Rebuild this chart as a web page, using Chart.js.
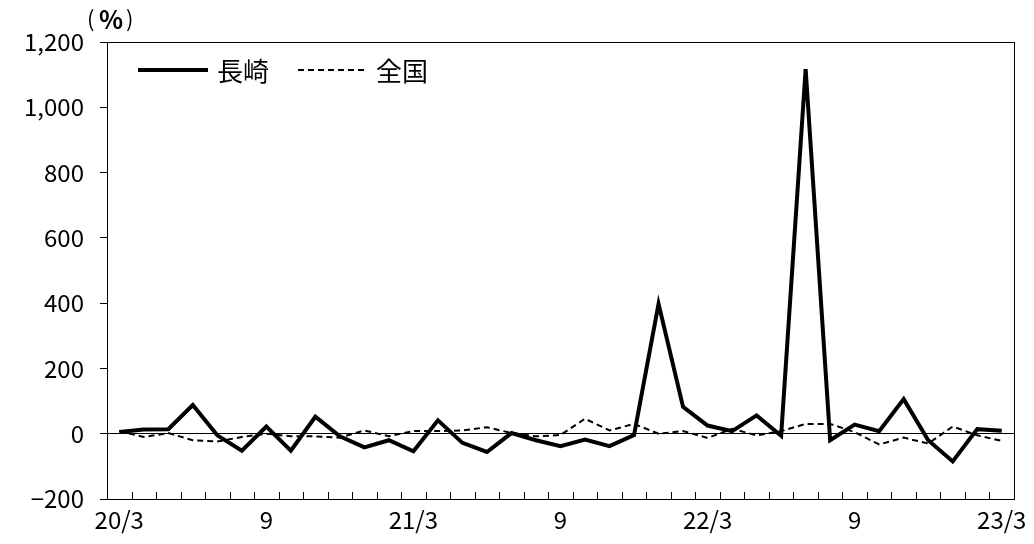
<!DOCTYPE html>
<html>
<head>
<meta charset="utf-8">
<script src="https://cdn.jsdelivr.net/npm/chart.js@4.4.1/dist/chart.umd.min.js"></script>
<style>
  html, body { margin: 0; padding: 0; background: #fff; }
  canvas { display: block; }
</style>
</head>
<body>
<canvas id="chart" width="1034" height="544"></canvas>
<script>
// monthly, 2020/3 .. 2023/3
const months = [
  '2020/3', '2020/4', '2020/5', '2020/6', '2020/7', '2020/8', '2020/9', '2020/10', '2020/11', '2020/12',
  '2021/1', '2021/2', '2021/3', '2021/4', '2021/5', '2021/6', '2021/7', '2021/8', '2021/9', '2021/10',
  '2021/11', '2021/12', '2022/1', '2022/2', '2022/3', '2022/4', '2022/5', '2022/6', '2022/7', '2022/8',
  '2022/9', '2022/10', '2022/11', '2022/12', '2023/1', '2023/2', '2023/3',
];
const xTickLabels = ['20/3', '9', '21/3', '9', '22/3', '9', '23/3'];
const xTickEvery = 6;

const nagasaki = [5, 13, 14, 88, -5, -52, 22, -52, 52, -8, -42, -20, -54, 41, -28, -56, 2, -20, -38, -18,
  -38, -4, 398, 82, 25, 8, 56, -6, 1117, -20, 28, 8, 106, -20, -85, 14, 9];
const zenkoku = [8, -10, 2, -20, -24, -10, 0, -8, -8, -12, 10, -8, 8, 8, 10, 20, 2, -8, -4, 46,
  10, 30, 0, 8, -13, 15, -5, 8, 30, 30, 5, -33, -12, -30, 22, -5, -22];

const seriesNames = ['長崎', '全国'];
const yMin = -200;
const yMax = 1200;
const yStep = 200;

const jpFont = '"Noto Sans CJK JP", sans-serif';
const tickFont = { family: jpFont, size: 24 };

function formatY(value) {
  const s = Math.abs(value).toLocaleString('en-US');
  return value < 0 ? '\u2212' + s : s;
}

// frame, inner x ticks, unit label
const framePlugin = {
  id: 'frame',
  beforeDatasetsDraw(chart) {
    const { ctx, chartArea } = chart;
    const x = chart.scales.x;
    const half = (x.getPixelForValue(1) - x.getPixelForValue(0)) / 2;
    ctx.save();
    ctx.strokeStyle = '#000';
    ctx.lineWidth = 1;
    ctx.strokeRect(chartArea.left + 0.5, chartArea.top + 0.5,
      chartArea.right - chartArea.left, chartArea.bottom - chartArea.top);
    ctx.beginPath();
    for (let i = 0; i <= months.length; i++) {
      const px = Math.round(x.getPixelForValue(i) - half) + 0.5;
      ctx.moveTo(px, chartArea.bottom);
      ctx.lineTo(px, chartArea.bottom - 7);
    }
    ctx.stroke();

    // (%)
    const uy = chartArea.top - 23;
    ctx.fillStyle = '#000';
    ctx.textBaseline = 'middle';
    ctx.textAlign = 'left';
    ctx.font = '22px ' + jpFont;
    ctx.fillText('(', chartArea.left - 20, uy);
    ctx.font = 'bold 25px ' + jpFont;
    ctx.fillText('%', chartArea.left - 8, uy);
    ctx.font = '22px ' + jpFont;
    ctx.fillText(')', chartArea.left + 19, uy);
    ctx.restore();
  },
};

// legend inside the plot area, top left
const insideLegend = {
  id: 'insideLegend',
  afterDraw(chart) {
    const { ctx, chartArea } = chart;
    const y = chartArea.top + 28;
    const items = [
      { x0: chartArea.left + 31, x1: chartArea.left + 101 },
      { x0: chartArea.left + 191, x1: chartArea.left + 260 },
    ];
    ctx.save();
    chart.data.datasets.forEach((ds, i) => {
      const it = items[i];
      ctx.strokeStyle = ds.borderColor;
      ctx.lineWidth = ds.borderWidth;
      ctx.setLineDash(ds.borderDash || []);
      ctx.beginPath();
      ctx.moveTo(it.x0, y);
      ctx.lineTo(it.x1, y);
      ctx.stroke();
      ctx.setLineDash([]);
      ctx.fillStyle = '#000';
      ctx.font = '26px ' + jpFont;
      ctx.textAlign = 'left';
      ctx.textBaseline = 'middle';
      ctx.fillText(ds.label, it.x1 + 9, y + 1);
    });
    ctx.restore();
  },
};

new Chart(document.getElementById('chart'), {
  type: 'line',
  data: {
    labels: months,
    datasets: [
      {
        label: seriesNames[0],
        data: nagasaki,
        borderColor: '#000',
        borderWidth: 4,
        borderJoinStyle: 'miter',
        pointRadius: 0,
        tension: 0,
      },
      {
        label: seriesNames[1],
        data: zenkoku,
        borderColor: '#000',
        borderWidth: 2,
        borderDash: [6, 4],
        pointRadius: 0,
        tension: 0,
      },
    ],
  },
  options: {
    responsive: false,
    animation: false,
    devicePixelRatio: 1,
    layout: { padding: { left: 0, top: 42, right: 20, bottom: 0 } },
    plugins: {
      legend: { display: false },
      tooltip: { enabled: false },
    },
    scales: {
      x: {
        type: 'category',
        offset: true,
        grid: { drawOnChartArea: false, drawTicks: false },
        border: { display: true, color: '#000', width: 1 },
        ticks: {
          autoSkip: false,
          maxRotation: 0,
          padding: 6,
          color: '#000',
          font: tickFont,
          callback: (value, index) => (index % xTickEvery === 0 ? xTickLabels[index / xTickEvery] : ''),
        },
        afterFit: (scale) => { scale.height = 45; },
      },
      y: {
        min: yMin,
        max: yMax,
        grid: {
          color: (c) => (c.tick && c.tick.value === 0 ? '#000' : 'rgba(0,0,0,0)'),
          tickColor: '#000',
          tickLength: 7,
          lineWidth: 1,
        },
        border: { display: true, color: '#000', width: 1 },
        ticks: {
          stepSize: yStep,
          padding: 16,
          color: '#000',
          font: tickFont,
          callback: (v) => formatY(v),
        },
        afterFit: (scale) => { scale.width = 107; },
      },
    },
  },
  plugins: [framePlugin, insideLegend],
});
</script>
</body>
</html>
